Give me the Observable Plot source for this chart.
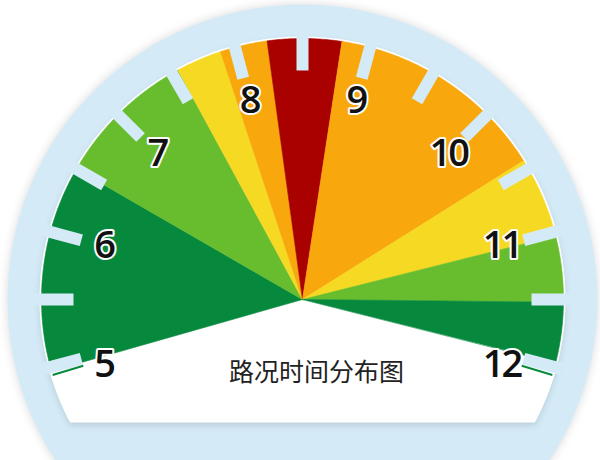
<!DOCTYPE html>
<html>
<head>
<meta charset="utf-8">
<script src="https://cdn.jsdelivr.net/npm/d3@7"></script>
<script src="https://cdn.jsdelivr.net/npm/@observablehq/plot@0.6"></script>
<style>
  html, body { margin: 0; padding: 0; background: #fff; }
  #chart { width: 600px; height: 460px; }
</style>
</head>
<body>
<div id="chart"></div>
<script>
// ---- data ----
const hourTicks  = [5, 6, 7, 8, 9, 10, 11, 12];
const hourLabels = ["5", "6", "7", "8", "9", "10", "11", "12"];
const notchHours = [5, 5.5, 6, 6.5, 7, 7.5, 8, 8.5, 9, 9.5, 10, 10.5, 11, 11.5, 12];
const segStart   = [4.97, 6.5, 7.55, 7.89, 8.24, 8.79, 10.43, 11.03, 11.52];
const segEnd     = [6.5, 7.55, 7.89, 8.24, 8.79, 10.43, 11.03, 11.52, 11.97];
const segLevel   = [0, 1, 2, 3, 4, 3, 2, 1, 0];
const levelColors = ["#07893d", "#68bd2f", "#f6d923", "#f8a70c", "#a90000"];
const endHours   = [4.94, 12.06];
const chartTitle = "路况时间分布图";

// ---- geometry through Plot scales ----
const angle = Plot.scale({x: {type: "linear", domain: [5, 12], range: [195, -15]}});
const rad = (h) => angle.apply(h) * Math.PI / 180;
const px = (h, r) => r * Math.cos(rad(h));
const py = (h, r) => r * Math.sin(rad(h));

const R = 261, notchIn = 229, notchOut = 268, labelR = 206;
const ringColor = "#d4ebf7";

// wedge polygons
const wedgePts = [];
segStart.forEach((s, i) => {
  const e = segEnd[i];
  wedgePts.push({seg: i, x: 0, y: 0, color: levelColors[segLevel[i]]});
  const n = Math.max(4, Math.ceil((e - s) * 60));
  for (let k = 0; k <= n; k++) {
    const h = s + (e - s) * k / n;
    wedgePts.push({seg: i, x: px(h, R), y: py(h, R), color: levelColors[segLevel[i]]});
  }
});

// white inner face (disc, flat bottom)
const facePts = d3.range(0, 361, 1).map(a => {
  const t = a * Math.PI / 180;
  return {x: 263 * Math.cos(t), y: Math.max(263 * Math.sin(t), -123)};
});

const labels = hourTicks.map((h, i) => ({h, text: hourLabels[i], end: i === 0 || i === hourTicks.length - 1}));

const chart = Plot.plot({
  width: 600,
  height: 460,
  margin: 0,
  x: {domain: [-302, 298], axis: null},
  y: {domain: [-161, 299], axis: null},
  color: {type: "identity"},
  style: {background: "white", overflow: "visible"},
  marks: [
    Plot.dot([{x: 0, y: 0}], {x: "x", y: "y", r: 295, fill: ringColor, stroke: "none"}),
    Plot.line(facePts, {x: "x", y: "y", fill: "white", stroke: "none", curve: "linear-closed"}),
    Plot.line(wedgePts, {x: "x", y: "y", z: "seg", fill: "color", stroke: "color", strokeWidth: 0.6, curve: "linear-closed"}),
    Plot.link(notchHours, {
      x1: h => px(h, notchIn), y1: h => py(h, notchIn),
      x2: h => px(h, notchOut), y2: h => py(h, notchOut),
      stroke: ringColor, strokeWidth: 12
    }),
    Plot.link(endHours, {
      x1: h => px(h, 229), y1: h => py(h, 229),
      x2: h => px(h, 261), y2: h => py(h, 261),
      stroke: levelColors[0], strokeWidth: 2
    }),
    Plot.text(labels.filter(d => !d.end), {
      x: d => px(d.h, labelR), y: d => py(d.h, labelR), text: "text",
      fontSize: 38, fontWeight: 600, fontFamily: "Open Sans",
      fill: "#111", stroke: "white", strokeWidth: 4
    }),
    Plot.text(labels.filter(d => d.end), {
      x: d => px(d.h, labelR), y: d => py(d.h, labelR), text: "text", dy: 12,
      fontSize: 38, fontWeight: 600, fontFamily: "Open Sans",
      fill: "#111", stroke: "white", strokeWidth: 4
    }),
    Plot.text([chartTitle], {
      text: d => d, frameAnchor: "bottom", dx: 16, dy: -80,
      fontSize: 25, fontFamily: "Noto Sans CJK SC", fill: "#222"
    })
  ]
});

chart.querySelectorAll('g[aria-label="text"] text').forEach(t => {
  if (/^\d+$/.test(t.textContent)) t.setAttribute("letter-spacing", "-3");
});
const ring = chart.querySelector('g[aria-label="dot"] circle');
if (ring) ring.style.filter = "drop-shadow(0 0 5px rgba(0,0,0,0.15))";
const face = chart.querySelectorAll('g[aria-label="line"]')[0];
if (face) face.style.filter = "drop-shadow(0 3px 3px rgba(0,0,0,0.12))";

document.getElementById("chart").appendChild(chart);
</script>
</body>
</html>
